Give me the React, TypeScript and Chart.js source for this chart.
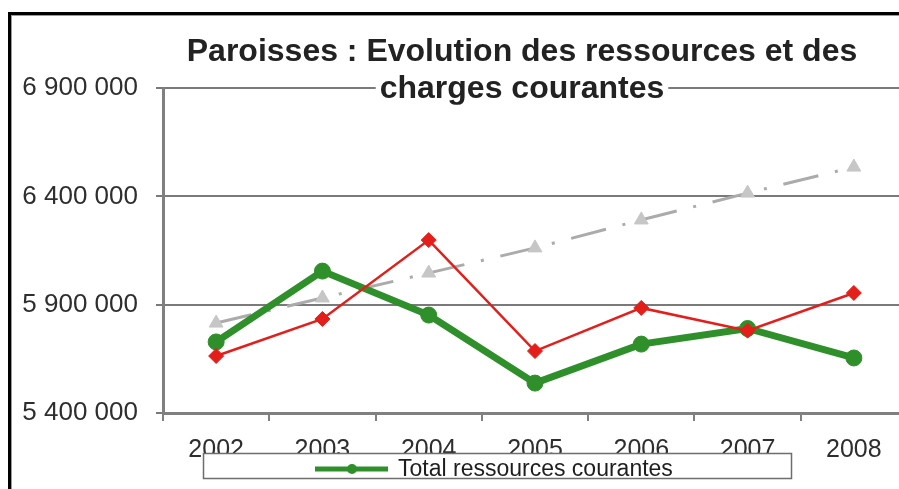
import React, { useEffect, useRef } from "react";
import { Chart, registerables } from "chart.js";

Chart.register(...registerables);

const YEARS = ["2002", "2003", "2004", "2005", "2006", "2007", "2008"];
const RESSOURCES = [5728000, 6055000, 5852000, 5538000, 5718000, 5790000, 5654000];
const CHARGES = [5663000, 5834000, 6198000, 5686000, 5885000, 5780000, 5954000];
const TENDANCE = [5815000, 5931000, 6046000, 6162000, 6291000, 6415000, 6535000];
const TITLE_LINES = ["Paroisses : Evolution des ressources et des", "charges courantes"];
const Y_MIN = 5400000;
const Y_MAX = 6900000;
const Y_STEP = 500000;

const FONT = '"Liberation Sans", Arial, sans-serif';
const GREEN = "#2f8f2a";
const RED = "#e41e1a";
const GRAY_LINE = "#ababab";
const GRAY_PT = "#c6c6c6";

const CANVAS_W = 1040;
const CANVAS_H = 489;

const fmt = (v: number) => String(Math.round(v)).replace(/\B(?=(\d{3})+(?!\d))/g, " ");

const TITLE_PAD_TOP = 34;
const TITLE_LH = 37;
const TITLE_SIZE = 32;

const titleBgPlugin = {
  id: "titleBg",
  beforeDatasetsDraw(chart: any) {
    const t = chart.titleBlock;
    if (!t) return;
    const ctx = chart.ctx;
    ctx.save();
    ctx.font = `bold ${TITLE_SIZE}px ${FONT}`;
    const w = ctx.measureText(TITLE_LINES[1]).width;
    const cx = (t.left + t.right) / 2;
    const cy = t.top + TITLE_PAD_TOP + TITLE_LH * 1.5;
    const x0 = cx - w / 2 - 4;
    const y0 = cy - 15;
    ctx.fillStyle = "#ffffff";
    ctx.fillRect(x0, y0, w + 8, 30);
    ctx.beginPath();
    ctx.rect(x0, y0, w + 8, 30);
    ctx.clip();
    t.draw();
    ctx.restore();
  },
};

const legendBoxPlugin = {
  id: "legendBox",
  afterDraw(chart: any) {
    const ca = chart.chartArea;
    const ctx = chart.ctx;
    const ds = chart.data.datasets[0];
    const left = ca.left + 40;
    const right = ca.left + 629;
    const top = ca.bottom + 40;
    const bottom = ca.bottom + 66;
    ctx.save();
    ctx.fillStyle = "#ffffff";
    ctx.fillRect(left, top, right - left, bottom - top);
    ctx.strokeStyle = "#6e6e6e";
    ctx.lineWidth = 1.5;
    ctx.strokeRect(left + 0.5, top + 0.5, right - left - 1, bottom - top - 1);
    const ly = top + 16;
    ctx.strokeStyle = ds.borderColor;
    ctx.lineWidth = 5;
    ctx.beginPath();
    ctx.moveTo(left + 112, ly);
    ctx.lineTo(left + 185, ly);
    ctx.stroke();
    ctx.fillStyle = ds.pointBackgroundColor;
    ctx.beginPath();
    ctx.arc(left + 149, ly, 5, 0, Math.PI * 2);
    ctx.fill();
    ctx.beginPath();
    ctx.rect(left + 1, top + 1, right - left - 2, bottom - top - 2);
    ctx.clip();
    ctx.fillStyle = "#1e1e1e";
    ctx.font = `23px ${FONT}`;
    ctx.textBaseline = "alphabetic";
    ctx.textAlign = "left";
    ctx.fillText(ds.label, left + 195, top + 23);
    ctx.restore();
  },
};

export default function App() {
  const ref = useRef<HTMLCanvasElement | null>(null);

  useEffect(() => {
    document.body.style.margin = "0";
    const canvas = ref.current;
    if (!canvas) return;
    const chart = new Chart(canvas, {
      type: "line",
      data: {
        labels: YEARS,
        datasets: [
          {
            label: "Total ressources courantes",
            data: RESSOURCES,
            borderColor: GREEN,
            backgroundColor: GREEN,
            pointBackgroundColor: GREEN,
            pointBorderColor: GREEN,
            borderWidth: 7,
            pointStyle: "circle",
            pointRadius: 8,
            pointBorderWidth: 1,
            tension: 0,
            order: 1,
          },
          {
            label: "Total charges courantes",
            data: CHARGES,
            borderColor: RED,
            backgroundColor: RED,
            pointBackgroundColor: RED,
            pointBorderColor: RED,
            borderWidth: 2.5,
            pointStyle: "rectRot",
            pointRadius: 7.5,
            pointBorderWidth: 1,
            tension: 0,
            order: 0,
          },
          {
            label: "Tendance",
            data: TENDANCE,
            borderColor: GRAY_LINE,
            backgroundColor: GRAY_PT,
            pointBackgroundColor: GRAY_PT,
            pointBorderColor: GRAY_PT,
            borderWidth: 3,
            borderDash: [36, 17, 3, 17],
            pointStyle: "triangle",
            pointRadius: 8,
            pointBorderWidth: 1,
            tension: 0,
            order: 2,
          },
        ],
      },
      options: {
        responsive: false,
        animation: false,
        devicePixelRatio: 1,
        layout: { padding: { left: 8, right: 4, top: 0, bottom: 0 } },
        plugins: {
          legend: { display: false },
          tooltip: { enabled: false },
          title: {
            display: true,
            text: TITLE_LINES,
            color: "#222222",
            fullSize: true,
            font: { family: FONT, size: TITLE_SIZE, weight: "bold", lineHeight: `${TITLE_LH}px` },
            padding: { top: TITLE_PAD_TOP, bottom: 88 - TITLE_PAD_TOP - 2 * TITLE_LH },
          },
        },
        scales: {
          x: {
            type: "category",
            offset: true,
            grid: {
              display: true,
              offset: true,
              drawOnChartArea: false,
              drawTicks: true,
              tickLength: 8,
              color: "#808080",
              lineWidth: 2,
            },
            border: { display: true, color: "#808080", width: 3 },
            ticks: {
              font: { family: FONT, size: 25 },
              color: "#2e2e2e",
              padding: 14,
              maxRotation: 0,
              autoSkip: false,
            },
            afterFit: (s: any) => {
              s.height = 76;
            },
          },
          y: {
            position: "left",
            min: Y_MIN,
            max: Y_MAX,
            grid: { color: "#7a7a7a", lineWidth: 2, drawTicks: true, tickLength: 7 },
            border: { display: true, color: "#808080", width: 3 },
            ticks: {
              stepSize: Y_STEP,
              font: { family: FONT, size: 26 },
              color: "#2e2e2e",
              padding: 18,
              callback: (v: any) => fmt(Number(v)),
            },
            afterFit: (s: any) => {
              s.width = 155;
            },
          },
          yRight: {
            type: "linear",
            position: "right",
            display: true,
            min: Y_MIN,
            max: Y_MAX,
            grid: { display: false, drawTicks: false },
            border: { display: false },
            ticks: { display: false },
            afterFit: (s: any) => {
              s.width = 129;
            },
          },
        },
      },
      plugins: [titleBgPlugin, legendBoxPlugin],
    });
    return () => chart.destroy();
  }, []);

  return (
    <div
      style={{
        position: "fixed",
        left: 0,
        top: 0,
        width: 899,
        height: 489,
        overflow: "hidden",
        background: "#ffffff",
      }}
    >
      <canvas ref={ref} width={CANVAS_W} height={CANVAS_H} style={{ display: "block" }} />
      <div
        style={{
          position: "absolute",
          left: 8,
          top: 12,
          width: 1000,
          height: 1000,
          borderTop: "3px solid #000",
          borderLeft: "3px solid #000",
          boxShadow: "inset 1px 1px 0 #9a9a9a",
          pointerEvents: "none",
        }}
      />
    </div>
  );
}
